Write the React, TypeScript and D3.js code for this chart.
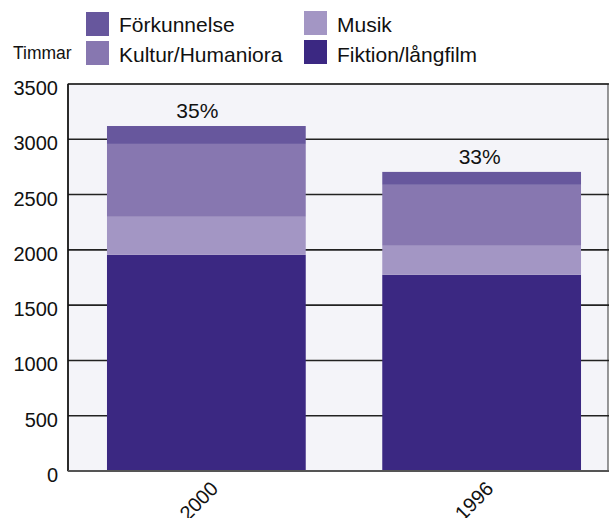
import React from "react";
import * as d3 from "d3";

const categories = ["2000", "1996"];
const seriesNames = ["Fiktion/långfilm", "Musik", "Kultur/Humaniora", "Förkunnelse"];
const fiktion = [1956, 1775];
const musik = [343, 262];
const kultur = [659, 551];
const forkunnelse = [162, 117];
const percentLabels = ["35%", "33%"];
const yTicks = [0, 500, 1000, 1500, 2000, 2500, 3000, 3500];
const yTitle = "Timmar";

const colors: Record<string, string> = {
  "Fiktion/långfilm": "#3b2882",
  "Musik": "#a396c4",
  "Kultur/Humaniora": "#8777b0",
  "Förkunnelse": "#67579d",
};

const legendOrder = [
  ["Förkunnelse", "Musik"],
  ["Kultur/Humaniora", "Fiktion/långfilm"],
];

const FONT = "'Liberation Sans', Arial, Helvetica, sans-serif";

export default function App() {
  const W = 609, H = 518;
  const left = 68, top = 84, bottom = 471, right = 608;

  const rows = categories.map((c, i) => ({
    cat: c,
    "Fiktion/långfilm": fiktion[i],
    "Musik": musik[i],
    "Kultur/Humaniora": kultur[i],
    "Förkunnelse": forkunnelse[i],
  }));
  const stack = d3.stack<any>().keys(seriesNames)(rows);

  const y = d3.scaleLinear().domain([0, 3500]).range([bottom, top]);
  const x = d3
    .scaleBand()
    .domain(categories)
    .range([left, 620])
    .paddingInner(0.278)
    .paddingOuter(0.1416);

  const totals = rows.map((r) => seriesNames.reduce((s, k) => s + (r as any)[k], 0));

  return (
    <svg
      width={W}
      height={H}
      style={{ position: "absolute", left: 0, top: 0, background: "#fff" }}
      fontFamily={FONT}
    >
      <defs>
        <clipPath id="plotclip">
          <rect x={0} y={0} width={W} height={H} />
        </clipPath>
      </defs>
      {/* plot background */}
      <rect x={left} y={top} width={right - left} height={bottom - top} fill="#f4f4f9" stroke="#333" strokeWidth={1} />
      {/* gridlines */}
      {yTicks.slice(1).map((t) => (
        <line key={t} x1={left} x2={W} y1={y(t)} y2={y(t)} stroke="#222" strokeWidth={1.6} />
      ))}
      {/* bars */}
      <g clipPath="url(#plotclip)">
        {stack.map((s) =>
          s.map((d, i) => (
            <rect
              key={s.key + i}
              x={x(categories[i])!}
              width={x.bandwidth()}
              y={y(d[1])}
              height={y(d[0]) - y(d[1])}
              fill={colors[s.key]}
            />
          ))
        )}
      </g>
      {/* axes */}
      <line x1={left} x2={left} y1={top} y2={bottom} stroke="#111" strokeWidth={1.6} />
      <line x1={left} x2={W} y1={bottom} y2={bottom} stroke="#555" strokeWidth={1.8} />
      {/* y tick labels */}
      {yTicks.map((t) => (
        <text key={t} x={58} y={y(t) + 11} textAnchor="end" fontSize={20} fill="#111">
          {t}
        </text>
      ))}
      {/* percent labels */}
      {categories.map((c, i) => (
        <text
          key={c}
          x={x(c)! + x.bandwidth() / 2 - (i === 0 ? 9 : 2)}
          y={y(totals[i]) - 8}
          textAnchor="middle"
          fontSize={21}
          fill="#111"
        >
          {percentLabels[i]}
        </text>
      ))}
      {/* x labels */}
      {categories.map((c) => (
        <text
          key={c}
          transform={`translate(${x(c)! + x.bandwidth() / 2 + 13},${490}) rotate(-45)`}
          textAnchor="end"
          fontSize={20}
          fill="#111"
        >
          {c}
        </text>
      ))}
      {/* y title */}
      <text x={13} y={59} fontSize={17.5} fill="#111">
        {yTitle}
      </text>
      {/* legend */}
      {legendOrder.map((row, ri) =>
        row.map((name, ci) => {
          const sx = ci === 0 ? 86 : 304;
          const sy = ri === 0 ? 12 : 41;
          return (
            <g key={name}>
              <rect x={sx} y={sy - (ci === 1 ? 1 : 0)} width={23} height={24} fill={colors[name]} />
              <text x={sx + 33} y={ri === 0 ? 32 : 62} fontSize={21} fill="#111">
                {name}
              </text>
            </g>
          );
        })
      )}
    </svg>
  );
}
